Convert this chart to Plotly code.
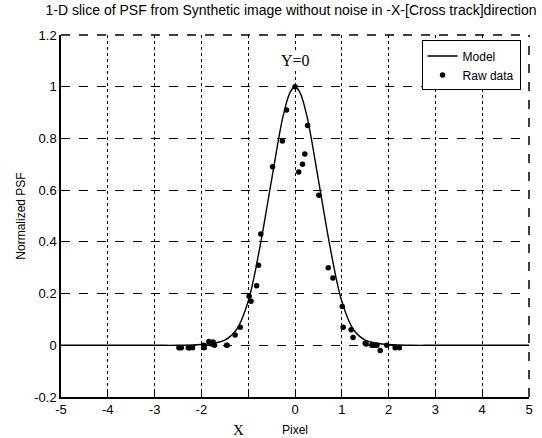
import plotly.graph_objects as go

# Raw data points
raw_x = [0.0, -0.18, 0.27, -0.27, 0.21, 0.16, 0.08, -0.48, 0.51,
         -0.73, -0.78, -0.82, -0.98, -0.94, -1.17, -1.28, -1.45, -1.72, -1.78, -1.94,
         0.71, 0.81, 1.01, 1.03, 1.2, 1.24, 1.52, 1.64, 1.75,
         -2.43, -2.25, -2.48, -2.28, -2.19, -1.95, -1.84, -1.75, -1.46,
         1.5, 1.69, 1.82, 1.96, 2.14, 2.23]
raw_y = [1.0, 0.91, 0.85, 0.79, 0.74, 0.70, 0.67, 0.69, 0.58,
         0.43, 0.31, 0.23, 0.19, 0.17, 0.07, 0.04, 0.0, 0.0, 0.005, -0.01,
         0.30, 0.26, 0.15, 0.07, 0.06, 0.03, 0.005, 0.0, 0.0,
         -0.01, -0.01, -0.01, -0.01, -0.01, 0.0, 0.015, 0.013, 0.0,
         0.008, 0.0, -0.02, 0.0, -0.01, -0.01]

# Model curve
model_x = [-5, -3, -2.5, -2, -1.75, -1.5, -1.25, -1, -0.75, -0.5, -0.25, -0.1, 0,
           0.1, 0.25, 0.5, 0.75, 1, 1.25, 1.5, 1.75, 2, 2.5, 3, 5]
model_y = [0, 0, 0, 0.003, 0.008, 0.02, 0.06, 0.17, 0.38, 0.64, 0.89, 0.98, 1.0,
           0.98, 0.89, 0.64, 0.38, 0.17, 0.06, 0.02, 0.008, 0.003, 0, 0, 0]

x_ticks = [-5, -4, -3, -2, -1, 0, 1, 2, 3, 4, 5]
x_tick_text = ["-5", "-4", "-3", "-2", "", "0", "1", "2", "3", "4", "5"]
y_ticks = [-0.2, 0, 0.2, 0.4, 0.6, 0.8, 1, 1.2]
y_tick_text = ["-0.2", "0", "0.2", "0.4", "0.6", "0.8", "1", "1.2"]

fig = go.Figure()
fig.add_trace(go.Scatter(x=model_x, y=model_y, mode="lines", name="Model",
                         line=dict(color="black", width=1.4, shape="spline", smoothing=1.0)))
fig.add_trace(go.Scatter(x=raw_x, y=raw_y, mode="markers", name="Raw data",
                         marker=dict(color="black", size=5.5)))

font = "Liberation Sans, Arial, sans-serif"
serif = "Liberation Serif, Times New Roman, serif"
fig.update_layout(
    width=542, height=438,
    margin=dict(l=61, r=13, t=35, b=41),
    paper_bgcolor="white", plot_bgcolor="white",
    font=dict(family=font, color="black", size=13),
    title=dict(text="1-D slice of PSF from Synthetic image without noise in -X-[Cross track]direction",
               x=0.537, xanchor="center", y=0.988, yanchor="top",
               font=dict(size=14, family=font, color="black")),
    showlegend=True,
    legend=dict(x=0.982, y=0.985, xanchor="right", yanchor="top",
                bgcolor="white", bordercolor="black", borderwidth=1,
                font=dict(size=12, family=font), tracegroupgap=0,
                itemwidth=30),
    xaxis=dict(range=[-5, 5], tickvals=x_ticks, ticktext=x_tick_text,
               showline=True, linecolor="black", linewidth=1.5,
               ticks="inside", ticklen=5, tickcolor="black",
               showgrid=True, gridcolor="black", griddash="dot", gridwidth=1.3,
               zeroline=False, tickfont=dict(size=13), automargin=False),
    yaxis=dict(range=[-0.2, 1.2], tickvals=y_ticks, ticktext=y_tick_text,
               showline=True, linecolor="black", linewidth=1.5,
               ticks="inside", ticklen=5, tickcolor="black",
               showgrid=True, gridcolor="black", griddash="dash", gridwidth=1.3,
               zeroline=False, tickfont=dict(size=13), automargin=False,
               title=dict(text="Normalized PSF", font=dict(size=12, family=font), standoff=6)),
)

# dashed top and right borders
fig.add_shape(type="line", xref="paper", yref="paper", x0=0, x1=1, y0=1, y1=1,
              line=dict(color="black", width=1.5, dash="dash"))
fig.add_shape(type="line", xref="paper", yref="paper", x0=1, x1=1, y0=0, y1=1,
              line=dict(color="black", width=1.5, dash="dash"))

fig.add_annotation(text="Y=0", x=0, y=1.1, xref="x", yref="y", showarrow=False,
                   bgcolor="white",
                   font=dict(family=serif, size=16, color="black"))
fig.add_annotation(text="X", x=-1.2, y=-0.09, xref="x", yref="paper", showarrow=False,
                   yanchor="middle",
                   font=dict(family=serif, size=15, color="black"))
fig.add_annotation(text="Pixel", x=0, y=-0.09, xref="x", yref="paper", showarrow=False,
                   yanchor="middle",
                   font=dict(family=font, size=12, color="black"))

fig.write_html("out.html")
